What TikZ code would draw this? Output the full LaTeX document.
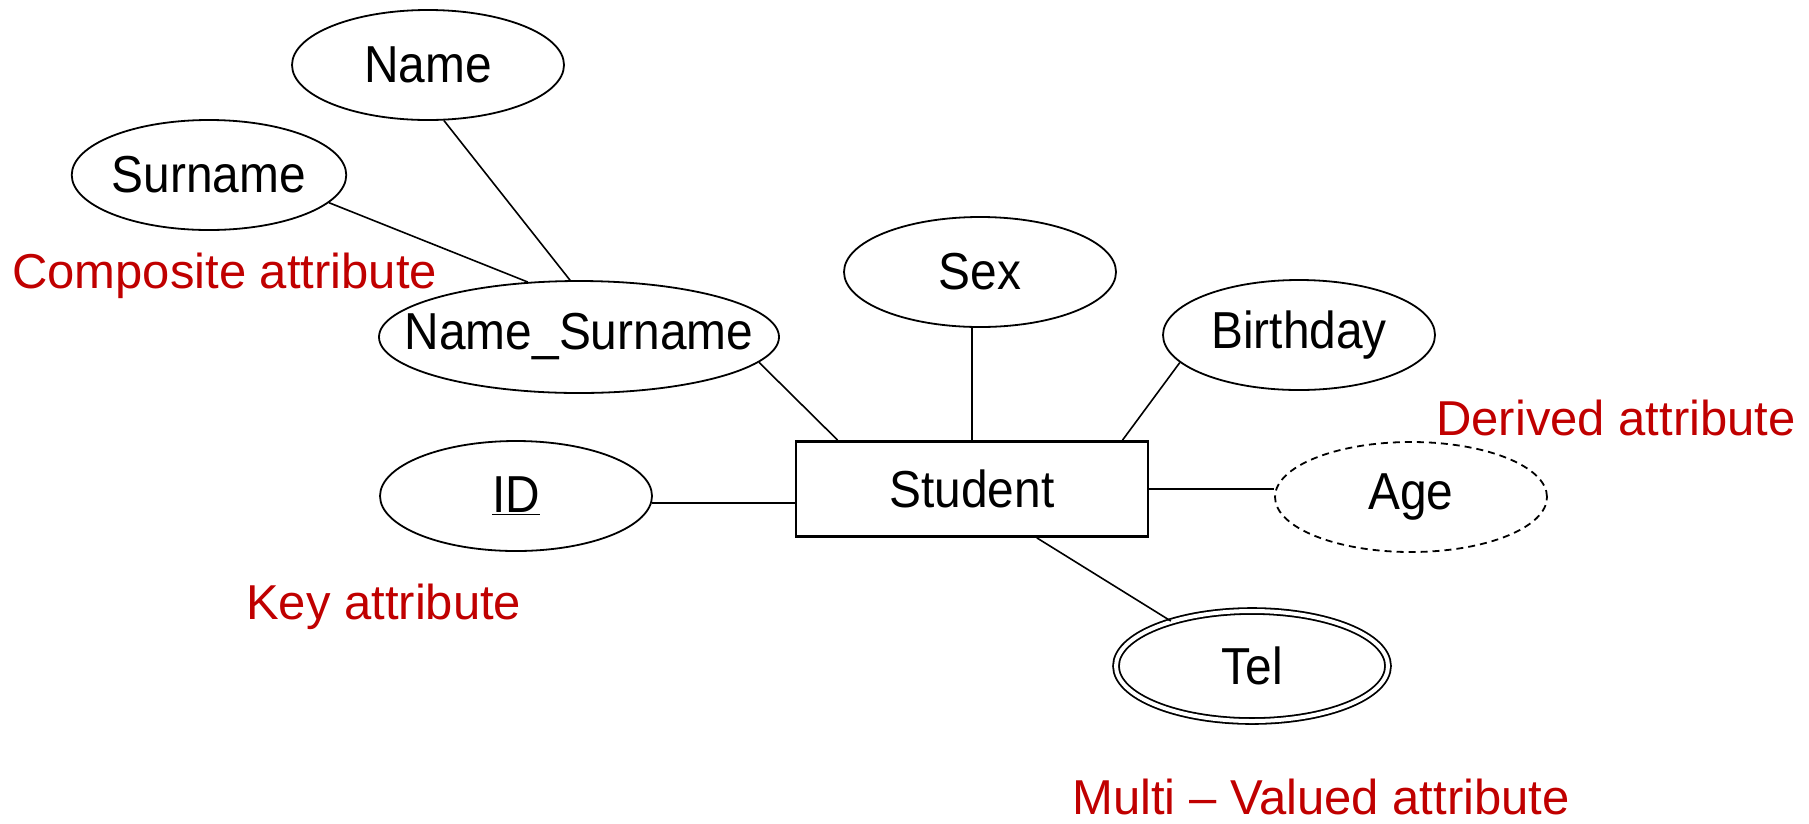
\documentclass[tikz,border=0pt]{standalone}
\usepackage{fontspec}
\setmainfont{Liberation Sans}
\newfontfamily\labelfont[FakeStretch=0.92]{Liberation Sans}
\usetikzlibrary{shapes.geometric}
\definecolor{notered}{HTML}{C00000}
\begin{document}
\begin{tikzpicture}[x=1pt,y=-1pt,
  attr/.style={ellipse, draw, line width=1.8pt, minimum width=272pt,
    minimum height=110pt, inner sep=0pt,
    font=\labelfont\fontsize{52}{60}\selectfont},
  derived/.style={attr, dash pattern=on 7pt off 5pt},
  multival/.style={attr, double, double distance=4pt, line width=1.8pt},
  entity/.style={rectangle, draw, line width=2.8pt, minimum width=352pt,
    minimum height=95pt, inner sep=0pt,
    font=\labelfont\fontsize{52}{60}\selectfont},
  link/.style={line width=1.6pt},
  note/.style={text=notered, inner sep=0pt, anchor=base west,
    font=\fontsize{49}{58}\selectfont}
]
\useasboundingbox (0,0) rectangle (1809,823);

% entity
\node[entity] (student) at (972,489) {Student};

% attributes
\node[attr] (name) at (428,65) {Name};
\node[attr] (surname) at (209,175) {Surname};
\node[attr, inner xsep=-45pt, minimum width=400pt, minimum height=112pt] (ns) at (579,337) {Name\_Surname};
\node[attr] (sex) at (980,272) {Sex};
\node[attr] (birthday) at (1299,335) {Birthday};
\node[attr] (id) at (516,496) {\underline{ID}};
\node[derived] (age) at (1411,497) {Age};
\node[multival] (tel) at (1252,666) {Tel};

% connectors
\draw[link] (name.-74) -- (ns.99);
\draw[link] (surname.-13) -- (ns.133);
\draw[link] (ns.-8) -- (student.160);
\draw[link] (student.north) -- (student.north |- sex.south);
\draw[link] (birthday.193) -- (student.18);
\draw[link] (id.-3.4) -- (id.-3.4 -| student.west);
\draw[link] (student.east) -- (student.east -| age.west);
\draw[link] (student.-37) -- (tel.151);

% annotations
\node[note] (compnote) at (12,288) {Composite attribute};
\node[note] (keynote) at (246,619) {Key attribute};
\node[note] (dernote) at (1436,435) {Derived attribute};
\node[note] (multinote) at (1072,814) {Multi -- Valued attribute};
\end{tikzpicture}
\end{document}
